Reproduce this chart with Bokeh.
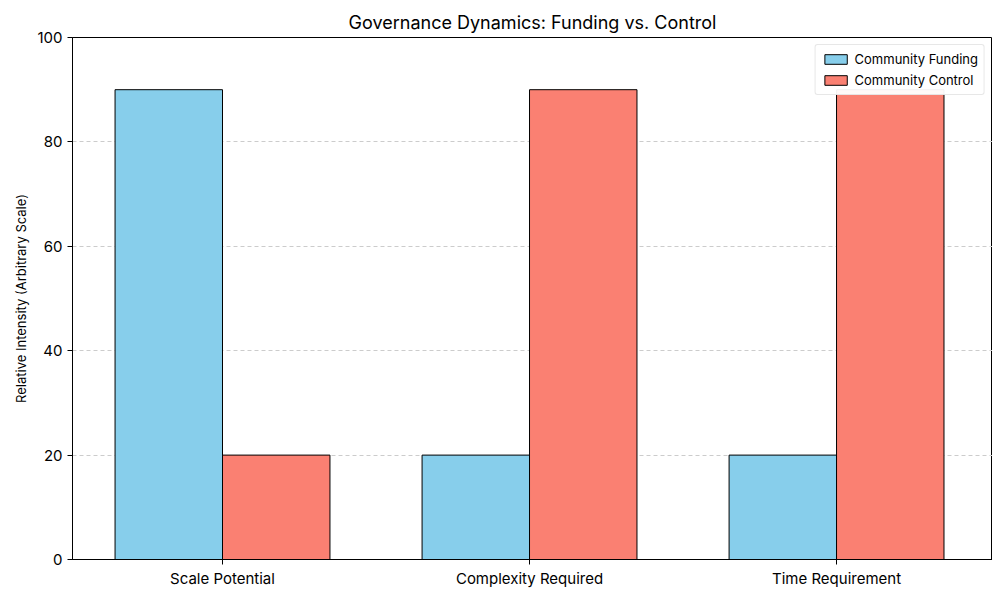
from bokeh.plotting import figure
from bokeh.models import ColumnDataSource, FixedTicker, Range1d, Legend, LegendItem
from bokeh.embed import file_html
from bokeh.resources import INLINE

categories = ["Scale Potential", "Complexity Required", "Time Requirement"]
funding = [90, 20, 20]
control = [20, 90, 90]
y_ticks = [0, 20, 40, 60, 80, 100]

FONT = "Inter"
bar_w = 0.35
idx = list(range(len(categories)))

src_f = ColumnDataSource(dict(x=[i - bar_w / 2 for i in idx], top=funding))
src_c = ColumnDataSource(dict(x=[i + bar_w / 2 for i in idx], top=control))

p = figure(width=992, height=592, output_backend="svg", toolbar_location=None,
           x_range=Range1d(-0.4886, 2.508), y_range=Range1d(0, 100),
           min_border_left=72, min_border_right=0, min_border_top=37, min_border_bottom=33)

p.title.text = "Governance Dynamics: Funding vs. Control"
p.title.align = "center"
p.title.text_font = FONT
p.title.text_font_size = "18px"
p.title.text_font_style = "normal"
p.title.text_color = "#000000"

r1 = p.vbar(x="x", top="top", width=bar_w, bottom=0, source=src_f,
            fill_color="#87CEEB", line_color="black", line_width=1)
r2 = p.vbar(x="x", top="top", width=bar_w, bottom=0, source=src_c,
            fill_color="#FA8072", line_color="black", line_width=1)

p.xaxis.ticker = FixedTicker(ticks=idx)
p.xaxis.major_label_overrides = {i: c for i, c in zip(idx, categories)}
p.yaxis.ticker = FixedTicker(ticks=y_ticks)
p.yaxis.axis_label = "Relative Intensity (Arbitrary Scale)"

for ax in (p.xaxis[0], p.yaxis[0]):
    ax.major_label_text_font = FONT
    ax.major_label_text_font_size = "15px"
    ax.major_label_text_color = "#000000"
    ax.axis_label_text_font = FONT
    ax.axis_label_text_font_size = "13px"
    ax.axis_label_text_font_style = "normal"
    ax.axis_label_text_color = "#000000"
    ax.axis_line_color = "black"
    ax.major_tick_line_color = "black"
    ax.major_tick_out = 5
    ax.major_tick_in = 0
    ax.minor_tick_line_color = None
p.xaxis.major_label_standoff = 4

p.xgrid.grid_line_color = None
p.ygrid.grid_line_color = "#cccccc"
p.ygrid.grid_line_dash = "4 3"
p.ygrid.grid_line_width = 1

p.outline_line_color = "black"
p.outline_line_alpha = 1
p.outline_line_width = 1

legend = Legend(items=[LegendItem(label="Community Funding", renderers=[r1]),
                       LegendItem(label="Community Control", renderers=[r2])],
                location="top_right")
legend.label_text_font = FONT
legend.label_text_font_size = "13px"
legend.label_text_color = "#000000"
legend.border_line_color = "#d0d0d0"
legend.border_radius = 3
legend.glyph_width = 28
legend.glyph_height = 12
legend.label_height = 14
legend.spacing = 5
legend.padding = 6
legend.margin = 7
p.add_layout(legend)

open("out.html", "w").write(file_html(p, INLINE))
